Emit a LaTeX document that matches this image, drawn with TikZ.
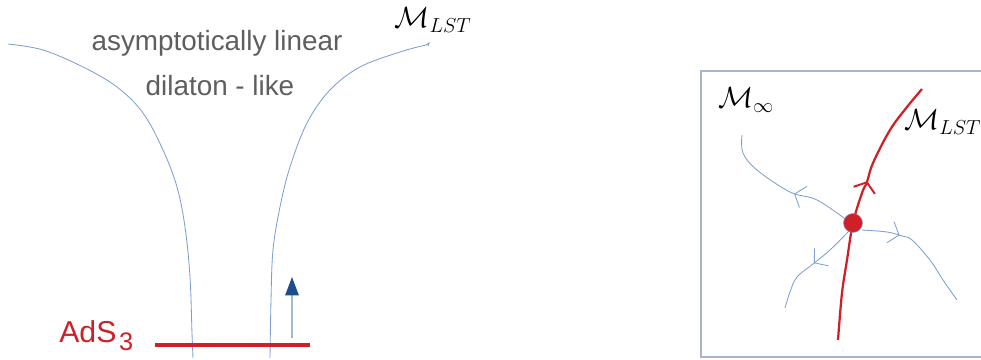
\documentclass[tikz,border=0pt]{standalone}
\usepackage{fontspec}
\setmainfont{Liberation Sans}
\usepackage{xcolor}
\definecolor{flowRed}{HTML}{CF2027}
\definecolor{flowBlue}{HTML}{7C9FD2}
\definecolor{shaftBlue}{HTML}{A3B7D6}
\definecolor{tipBlue}{HTML}{1F4E8C}
\definecolor{labelGray}{HTML}{5E5E5E}
\definecolor{frameGray}{HTML}{A9B4CC}
\usetikzlibrary{arrows.meta,decorations.markings}

\begin{document}
\begin{tikzpicture}[x=0.025cm, y=-0.025cm,
  flowline/.style={draw=flowBlue, line width=0.6pt},
  flowtip/.style={postaction={decorate}, decoration={markings,
    mark=at position #1 with {\arrow{Straight Barb[length=6.5pt,width=16pt]}}}},
  sanslabel/.style={font=\fontsize{19.8}{22}\selectfont, text=labelGray, inner sep=0pt}]
  \useasboundingbox (0,0) rectangle (981,360);
  \draw[frameGray, line width=0.8pt] (981,71) -- (701,71) -- (701,357) -- (981,357);

  \draw[flowline] plot[smooth, tension=0.6] coordinates {(8,44) (43,50) (83,67) (117,87) (143,113) (163,150) (177,187) (185,227) (190,277) (192,333) (193,358)};
  \draw[flowline] plot[smooth, tension=0.6] coordinates {(270,358) (271,300) (273,250) (280,207) (290,167) (307,123) (330,90) (360,67) (400,52) (426,45)};
  \draw[flowline] (426,45) -- (429,43) -- (428,46);
  \node[sanslabel, anchor=base] (asymText) at (217,51) {asymptotically linear};
  \node[sanslabel, anchor=base] (dilText) at (220,96) {dilaton - like};
  \node[font=\fontsize{21}{24}\selectfont, inner sep=0pt] (lstTop) at (433,20) {$\mathcal{M}_{LST}$};

  \draw[flowRed, line width=2.6pt] (155,345) -- (310,345);
  \node[font=\fontsize{21.5}{24}\selectfont, text=flowRed, inner sep=0pt, anchor=base west] (adsLabel) at (59,342) {AdS\hspace{2pt}\raisebox{-6pt}{\fontsize{18}{20}\selectfont 3}};
  \coordinate (arrowStart) at (292,338);
  \coordinate (arrowEnd) at (292,277);
  \draw[shaftBlue, line width=1.2pt, -{Triangle[length=13pt,width=9.5pt,color=tipBlue]}] (arrowStart) -- (arrowEnd);

  \node[font=\fontsize{21}{24}\selectfont, inner sep=0pt] (minfLabel) at (746,100) {$\mathcal{M}_{\infty}$};
  \node[font=\fontsize{21}{24}\selectfont, inner sep=0pt, anchor=west] (lstRight) at (904,122) {$\mathcal{M}_{LST}$};
  \draw[flowline, flowtip=0.42] plot[smooth, tension=0.6] coordinates {(848,221) (817,200) (790,192) (757,170) (743,153) (742,135)};
  \draw[flowline, flowtip=0.3] plot[smooth, tension=0.6] coordinates {(862,230) (887,232) (902,236) (912,240) (930,260) (943,280) (957,300)};
  \draw[flowline, flowtip=0.47] plot[smooth, tension=0.6] coordinates {(850,230) (830,250) (813,264) (797,277) (790,292) (785,308)};
  \draw[flowRed, line width=1.6pt, postaction={decorate}, decoration={markings,
    mark=at position 0.6 with {\arrow{Straight Barb[length=6pt,width=16pt,line width=1.4pt]}}}]
    plot[smooth, tension=0.6] coordinates {(838,340) (842,293) (847,260) (853,223) (862,193) (867,182) (873,163) (890,130) (907,107) (922,89)};
  \filldraw[fill=flowRed, draw=flowBlue, line width=0.4pt] (853,223) circle (9.5);
\end{tikzpicture}
\end{document}
